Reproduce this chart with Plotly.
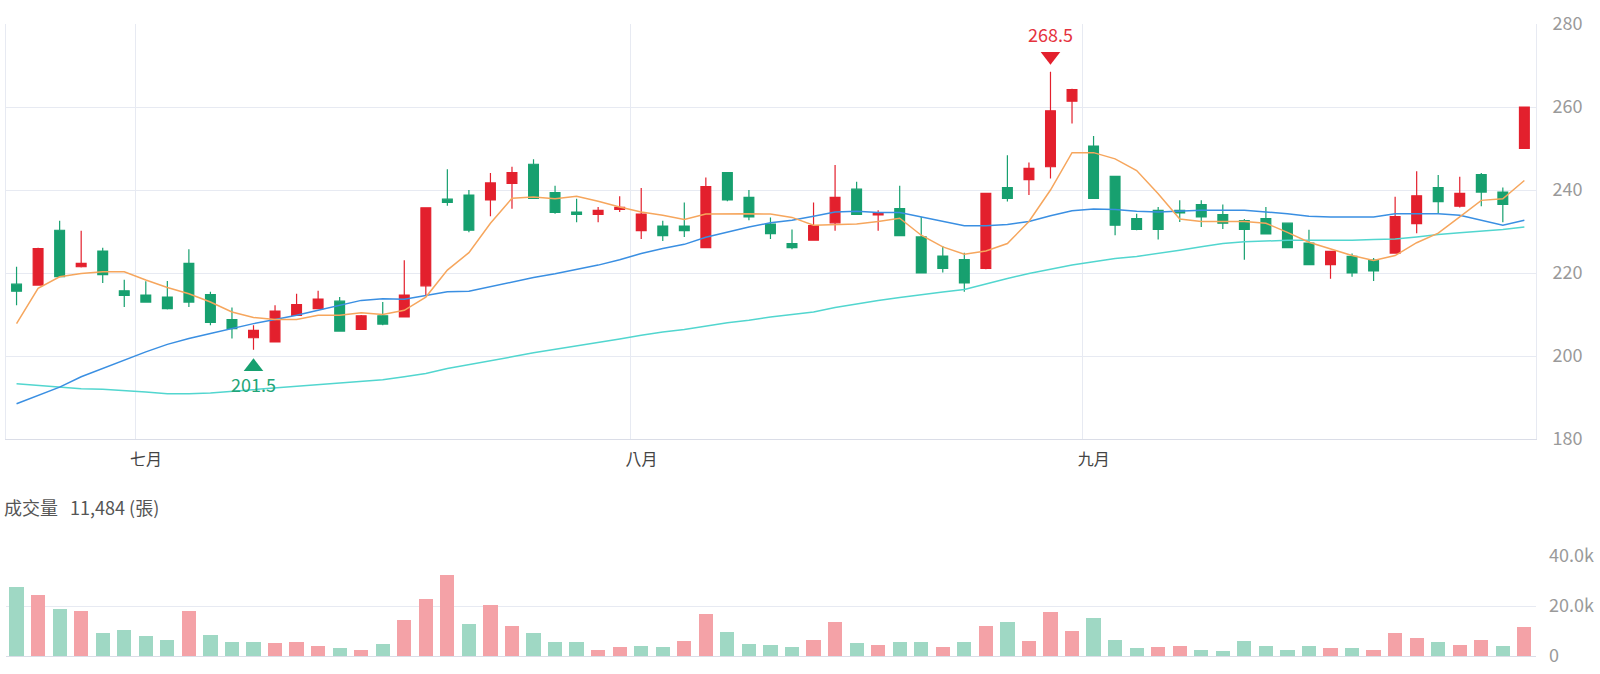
import plotly.graph_objects as go

# ---------------- data ----------------
opens = [217.3, 217.1, 230.3, 221.5, 225.3, 215.7, 214.7, 214.2, 222.3, 214.8,
         208.8, 204.4, 203.4, 209.8, 211.4, 213.2, 206.4, 209.7, 209.4, 216.9,
         237.8, 238.8, 237.6, 241.6, 246.2, 239.4, 234.7, 234.1, 235.3, 230.2,
         231.3, 231.3, 226.1, 244.2, 238.2, 231.8, 227.1, 227.9, 232.1, 240.2,
         234.0, 235.5, 228.7, 224.1, 223.2, 221.1, 240.6, 242.5, 245.6, 261.4,
         250.6, 243.3, 233.1, 235.1, 235.1, 236.5, 234.1, 232.6, 233.1, 232.0,
         227.2, 222.0, 224.0, 223.1, 224.8, 231.9, 240.6, 236.1, 243.7, 239.5,
         250.0]
highs = [221.5, 226.1, 232.6, 230.2, 226.1, 218.4, 218.0, 218.1, 225.7, 215.5,
         211.7, 207.4, 212.2, 215.0, 215.7, 214.2, 209.9, 213.0, 223.1, 235.8,
         245.0, 240.0, 244.1, 245.6, 247.4, 241.0, 237.9, 235.9, 238.5, 240.5,
         232.6, 237.0, 243.0, 244.3, 240.0, 233.4, 230.5, 237.0, 246.0, 242.0,
         235.1, 241.0, 233.5, 226.5, 224.9, 239.3, 248.4, 246.6, 268.5, 264.4,
         253.0, 243.4, 234.3, 235.9, 237.5, 237.5, 236.5, 233.0, 235.9, 232.1,
         230.4, 225.3, 224.7, 223.6, 238.4, 244.5, 243.6, 243.2, 244.1, 240.6,
         260.0]
lows = [212.2, 217.0, 219.0, 221.3, 217.6, 211.8, 212.9, 211.2, 211.8, 207.4,
        204.2, 201.5, 203.3, 209.7, 211.3, 205.9, 206.3, 207.4, 209.3, 214.6,
        236.2, 229.8, 233.7, 235.5, 237.9, 234.3, 232.2, 232.2, 234.7, 228.2,
        227.7, 228.7, 226.0, 237.3, 232.7, 228.2, 225.7, 227.8, 230.2, 234.0,
        230.2, 228.9, 219.9, 220.1, 215.5, 220.9, 237.2, 238.8, 242.8, 256.0,
        237.9, 229.1, 230.3, 228.1, 232.3, 231.1, 230.6, 223.2, 229.3, 226.0,
        221.9, 218.6, 219.1, 218.1, 224.7, 229.6, 234.2, 235.8, 236.1, 232.2,
        250.0]
closes = [215.6, 225.9, 219.1, 222.3, 219.6, 214.6, 213.0, 211.4, 213.0, 208.1,
          206.6, 206.2, 210.8, 212.4, 213.7, 206.0, 209.7, 207.7, 214.7, 235.7,
          237.0, 230.3, 241.7, 244.2, 238.0, 234.6, 234.1, 235.1, 235.8, 234.2,
          229.0, 230.2, 240.8, 237.6, 233.5, 229.5, 226.1, 231.4, 238.2, 234.1,
          234.5, 229.0, 220.0, 221.1, 217.6, 239.2, 238.0, 245.2, 259.1, 264.2,
          238.0, 231.5, 230.5, 230.5, 234.5, 233.5, 232.0, 230.5, 229.4, 226.1,
          222.0, 225.2, 220.0, 220.5, 233.6, 238.6, 237.2, 239.2, 239.5, 236.5,
          260.0]
ma5 = [207.8, 216.3, 219.1, 219.9, 220.3, 220.3, 218.3, 216.5, 215.0, 213.0,
       210.6, 209.3, 208.8, 208.8, 209.8, 209.8, 210.4, 210.0, 211.0, 214.2,
       220.7, 224.9, 232.0, 238.0, 238.3, 237.9, 238.5, 237.3, 235.9, 234.7,
       233.9, 232.9, 234.2, 234.3, 234.3, 234.2, 233.4, 231.5, 231.7, 231.8,
       232.4, 233.2, 229.1, 226.3, 224.5, 225.3, 227.1, 232.4, 240.0, 249.0,
       249.0, 247.5, 244.7, 239.1, 233.0, 232.4, 232.4, 232.4, 232.0, 229.8,
       227.4, 225.8, 224.2, 223.0, 224.2, 227.3, 229.6, 233.5, 237.5, 237.9,
       242.3]
ma20 = [188.5, 190.5, 192.5, 195.0, 197.0, 199.0, 201.0, 202.8, 204.2, 205.4,
        206.6, 207.8, 208.8, 209.8, 211.0, 212.2, 213.4, 213.8, 213.7, 214.6,
        215.5, 215.6, 216.7, 217.9, 218.9, 219.8, 220.8, 221.9, 223.2, 224.7,
        225.9, 226.9, 228.6, 229.9, 231.1, 232.1, 232.7, 233.7, 234.7, 234.9,
        234.6, 234.6, 233.5, 232.4, 231.4, 231.4, 231.7, 232.4, 233.8, 235.0,
        235.4, 235.3, 234.9, 234.7, 234.9, 235.1, 235.1, 235.1, 234.7, 234.3,
        233.7, 233.5, 233.5, 233.5, 234.3, 234.3, 234.3, 233.9, 232.7, 231.5,
        232.7]
ma60 = [193.3, 192.9, 192.4, 192.1, 192.0, 191.7, 191.3, 190.9, 190.9, 191.1,
        191.5, 191.9, 192.3, 192.6, 193.0, 193.4, 193.8, 194.3, 195.0, 195.8,
        197.0, 197.9, 198.8, 199.8, 200.8, 201.6, 202.4, 203.2, 204.1, 205.0,
        205.8, 206.4, 207.2, 208.0, 208.6, 209.4, 210.0, 210.6, 211.7, 212.6,
        213.4, 214.1, 214.8, 215.4, 216.0, 217.4, 218.7, 219.9, 220.9, 221.9,
        222.7, 223.5, 224.0, 224.7, 225.5, 226.3, 227.1, 227.5, 227.7, 227.9,
        227.9, 227.9, 227.9, 228.1, 228.2, 228.7, 229.3, 229.7, 230.1, 230.5,
        231.1]
volumes = [27600, 24400, 18900, 18000, 9100, 10500, 8000, 6500, 18100, 8300,
           5600, 5600, 5300, 5700, 3900, 3300, 2500, 4900, 14300, 22900,
           32500, 12700, 20400, 12100, 9300, 5700, 5600, 2500, 3600, 3900,
           3700, 6100, 16700, 9700, 4900, 4400, 3600, 6300, 13600, 5300,
           4300, 5600, 5700, 3700, 5600, 12000, 13600, 6000, 17700, 10000,
           15200, 6300, 3100, 3500, 4000, 2500, 2000, 6000, 4100, 2500,
           4100, 3100, 3100, 2400, 9200, 7100, 5500, 4400, 6500, 4100,
           11484]
# u = up day (red volume bar), d = down day (green volume bar)
vol_dir = list("dududdddud" "dduuududuu" "uduuddduud" "duudddduud"
               "uddududuuu" "ddduuddddd" "duduuuduud" "u")
# month tick labels and the index of the first trading day of each month
month_labels = ["七月", "八月", "九月"]
month_first_idx = [6, 29, 50]

# ---------------- styling ----------------
RED = "#e3202d"
GREEN = "#17a06f"
VRED = "#f4a2a7"
VGREEN = "#9fd8c4"
GRID = "#e7eaf2"
AXIS = "#dadde7"
FONT = "Noto Sans CJK TC, Noto Sans, sans-serif"

n = len(closes)
x = list(range(n))

# layout geometry (pixels)
W, H = 1600, 674
ml, mr, mt, mb = 6, 64, 24, 18
plot_h = H - mt - mb                  # 632
price_bottom_px = 439
vol_top_px = 556
price_dom = [(H - mb - price_bottom_px) / plot_h, 1.0]
vol_dom = [0.0, (H - mb - vol_top_px) / plot_h]
yr = [180, 280]
xr = [-0.49, 70.54]
px_per_unit = (price_bottom_px - mt) / (yr[1] - yr[0])
slot_px = (W - ml - mr) / (xr[1] - xr[0])

fig = go.Figure()

fig.add_trace(go.Candlestick(
    x=x, open=opens, high=highs, low=lows, close=closes,
    increasing=dict(line=dict(color=RED, width=1.2), fillcolor=RED),
    decreasing=dict(line=dict(color=GREEN, width=1.2), fillcolor=GREEN),
    whiskerwidth=0, opacity=1, showlegend=False, hoverinfo="skip",
    xaxis="x", yaxis="y"))

for vals, col in [(ma60, "#52d6cf"), (ma20, "#3a8fe2"), (ma5, "#f6a65d")]:
    fig.add_trace(go.Scatter(x=x, y=vals, mode="lines",
                             line=dict(color=col, width=1.5),
                             showlegend=False, hoverinfo="skip",
                             xaxis="x", yaxis="y"))

fig.add_trace(go.Bar(
    x=x, y=volumes, width=0.66,
    marker=dict(color=[VRED if d == "u" else VGREEN for d in vol_dir], line=dict(width=0)),
    showlegend=False, hoverinfo="skip", xaxis="x2", yaxis="y2"))

# highest high / lowest low markers
ih = max(range(n), key=lambda i: highs[i])
il = min(range(n), key=lambda i: lows[i])
fig.add_trace(go.Scatter(
    x=[ih], y=[highs[ih] + 15.5 / px_per_unit], mode="markers",
    marker=dict(symbol="triangle-down", size=17, color=RED, line=dict(width=0)),
    showlegend=False, hoverinfo="skip", xaxis="x", yaxis="y"))
fig.add_trace(go.Scatter(
    x=[il], y=[lows[il] - 17 / px_per_unit], mode="markers",
    marker=dict(symbol="triangle-up", size=17, color=GREEN, line=dict(width=0)),
    showlegend=False, hoverinfo="skip", xaxis="x", yaxis="y"))

annotations = [
    dict(x=ih, y=highs[ih], xref="x", yref="y", text=f"{highs[ih]}", showarrow=False,
         yshift=38, font=dict(size=18, color="#e5333e", family=FONT)),
    dict(x=il, y=lows[il], xref="x", yref="y", text=f"{lows[il]}", showarrow=False,
         yshift=-34, font=dict(size=18, color="#23a577", family=FONT)),
    dict(x=0, y=(H - mb - 507) / plot_h, xref="paper", yref="paper",
         xanchor="left", yanchor="middle", xshift=-4, showarrow=False,
         text="成交量\u00a0\u00a0\u00a0" + f"{volumes[-1]:,}" + " (張)",
         font=dict(size=18, color="#555555", family=FONT)),
]

fig.update_layout(
    width=W, height=H,
    margin=dict(l=ml, r=mr, t=mt, b=mb),
    paper_bgcolor="white", plot_bgcolor="white",
    showlegend=False, boxgap=0.545, boxgroupgap=0, bargap=0,
    font=dict(family=FONT),
    annotations=annotations,
    xaxis=dict(domain=[0, 1], anchor="y", range=xr,
               tickvals=[i - 0.5 for i in month_first_idx], ticktext=month_labels,
               ticklabelshift=int(round(slot_px / 2)), ticklabelstandoff=6,
               showgrid=True, gridcolor=GRID, gridwidth=1,
               showline=True, linecolor=AXIS, linewidth=1, ticks="",
               tickfont=dict(size=16, color="#444444", family=FONT),
               zeroline=False, rangeslider=dict(visible=False)),
    yaxis=dict(domain=price_dom, anchor="x", side="right", range=yr,
               tickvals=[180, 200, 220, 240, 260, 280],
               showgrid=True, gridcolor=GRID, gridwidth=1,
               showline=True, mirror=True, linecolor=GRID, linewidth=1,
               ticks="", ticklabelstandoff=12, zeroline=False,
               tickfont=dict(size=18, color="#9a9a9a", family=FONT)),
    xaxis2=dict(domain=[0, 1], anchor="y2", matches="x", range=xr,
                showticklabels=False, showgrid=False, showline=True,
                linecolor=AXIS, linewidth=1, ticks="", zeroline=False,
                rangeslider=dict(visible=False)),
    yaxis2=dict(domain=vol_dom, anchor="x2", side="right", range=[0, 40000],
                tickvals=[0, 20000, 40000], ticktext=["0", "20.0k", "40.0k"],
                showgrid=True, gridcolor=GRID, gridwidth=1, showline=False,
                ticks="", ticklabelstandoff=12, zeroline=False,
                tickfont=dict(size=18, color="#9a9a9a", family=FONT)),
)

fig.write_html("out.html")
